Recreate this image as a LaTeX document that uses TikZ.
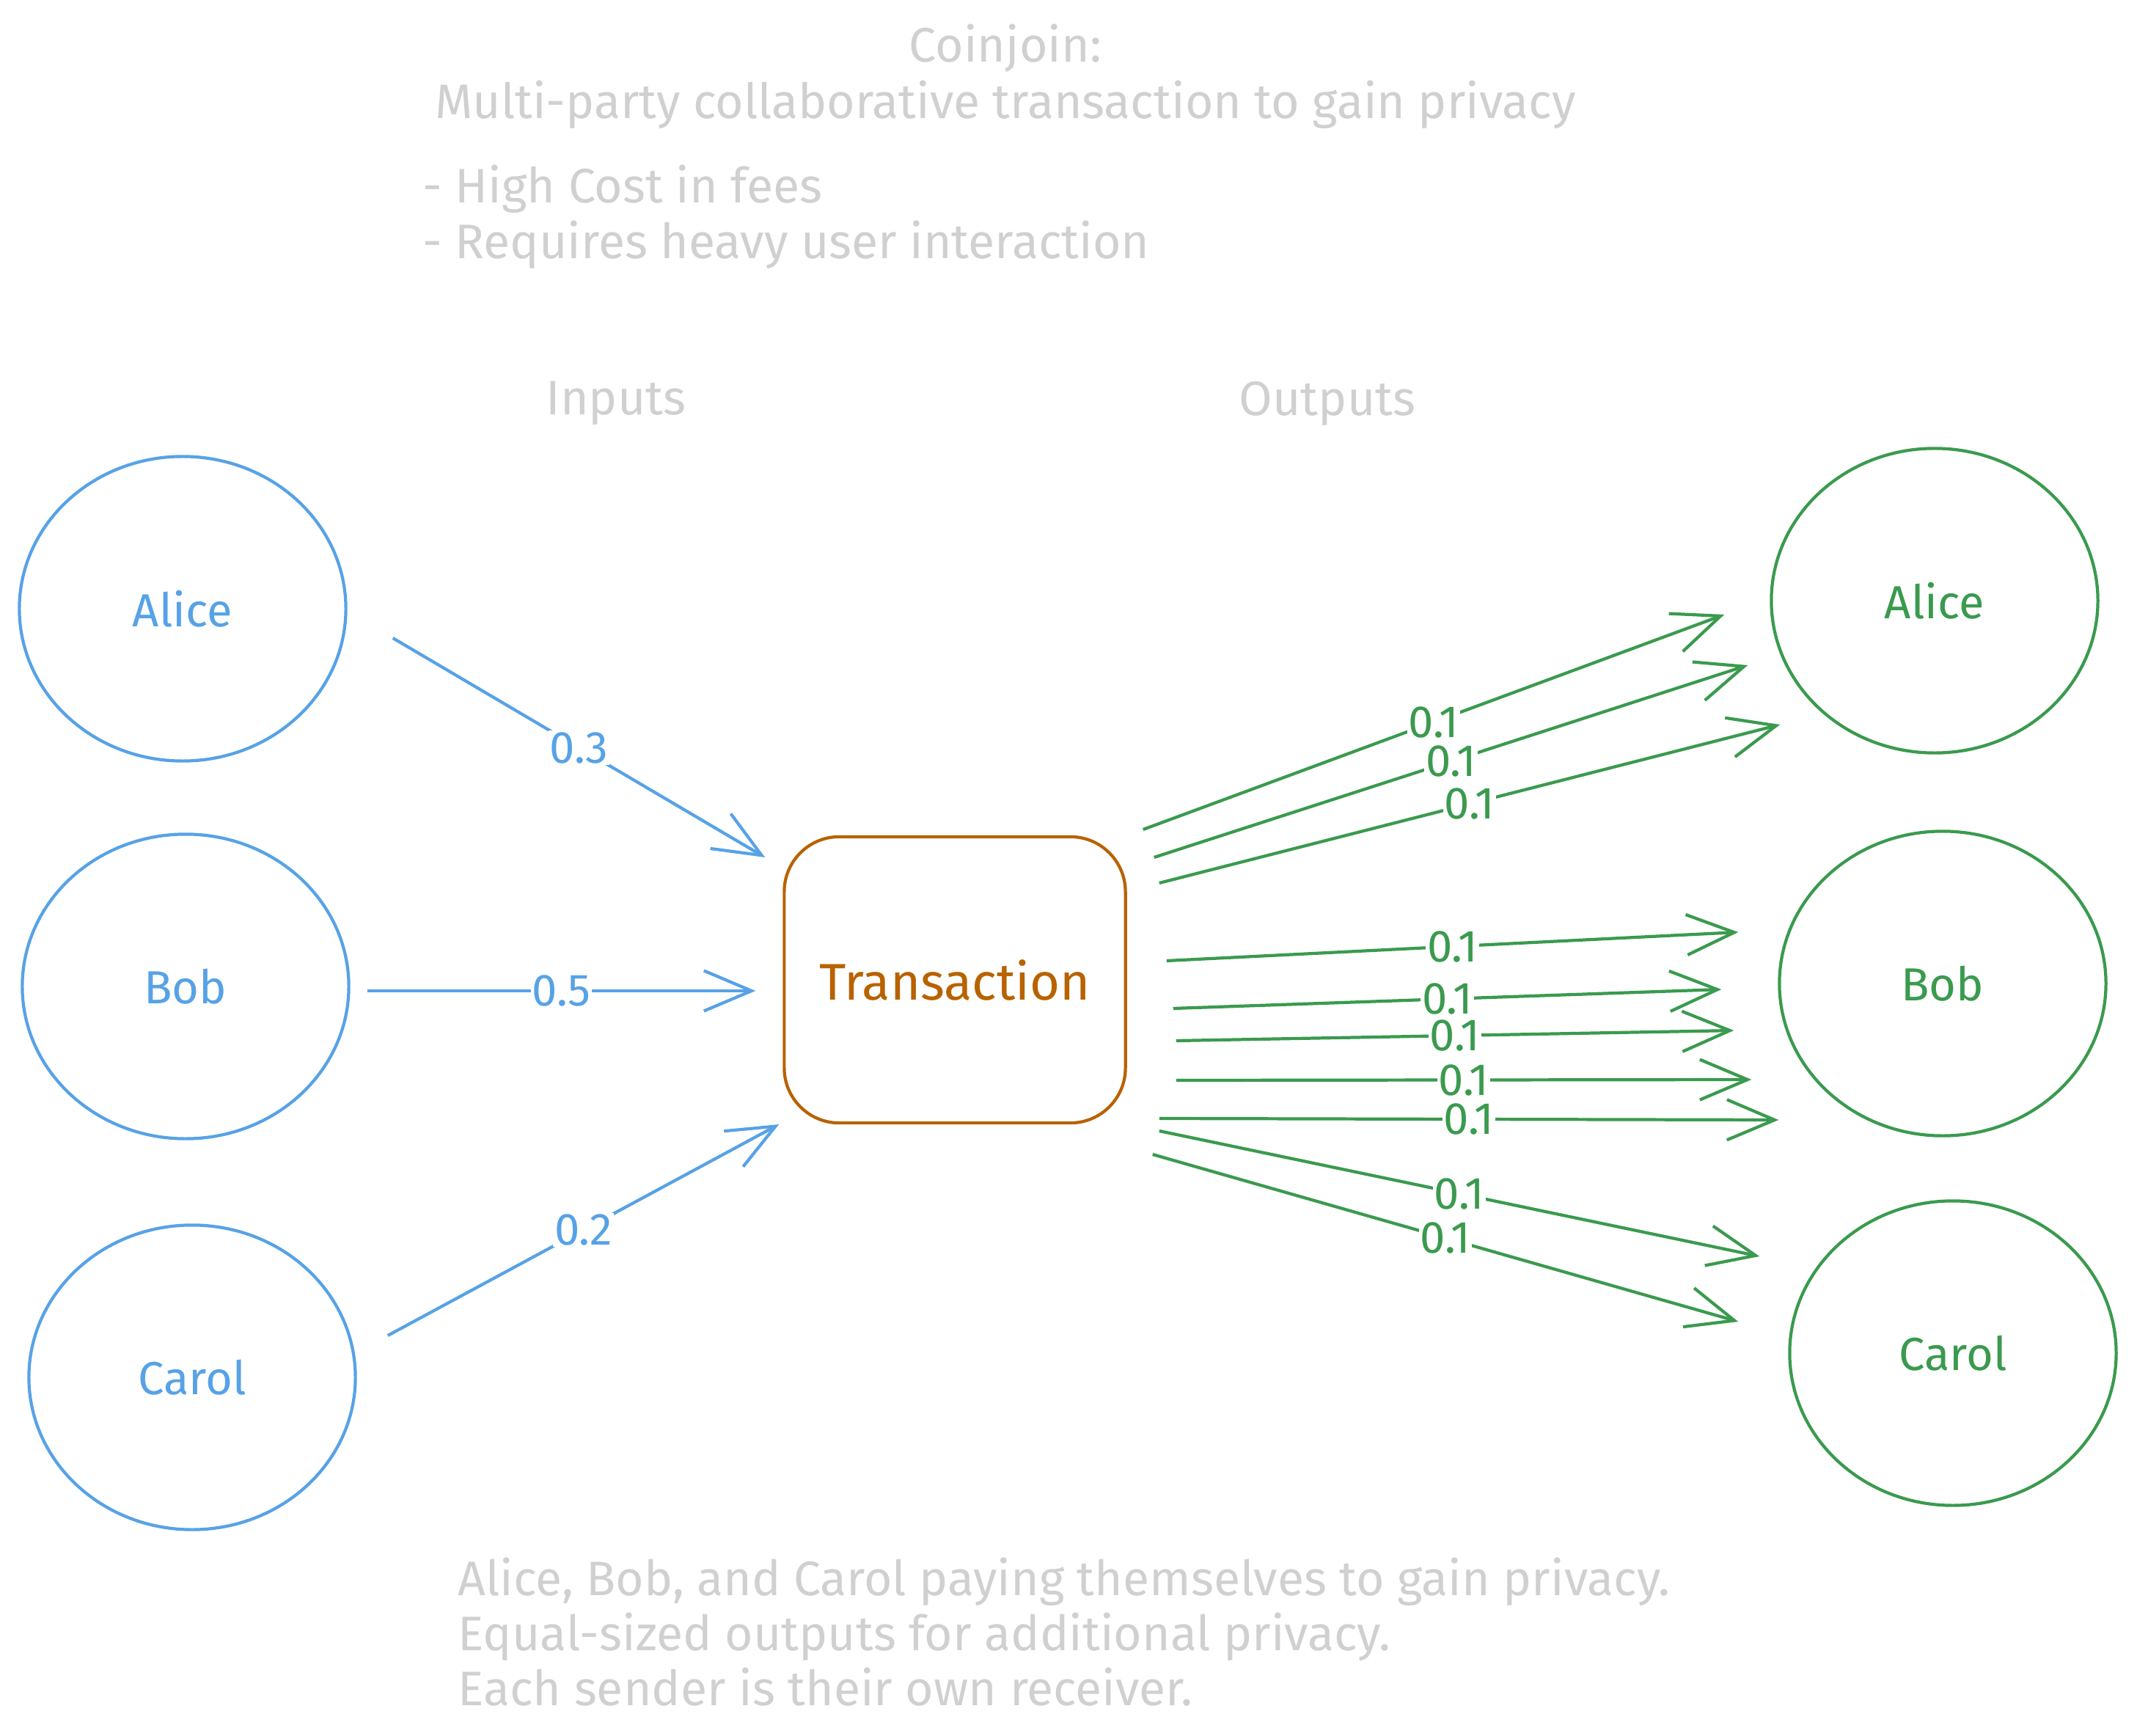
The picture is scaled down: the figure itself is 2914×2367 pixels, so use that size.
\documentclass[tikz,border=0pt]{standalone}
\usepackage{fontspec}
\setmainfont{Fira Sans}
\usetikzlibrary{shapes.geometric, arrows.meta}
\definecolor{inBlue}{RGB}{87,162,230}
\definecolor{outGreen}{RGB}{58,154,78}
\definecolor{txOrange}{RGB}{184,98,0}
\definecolor{noteGray}{RGB}{208,208,208}

\begin{document}
\begin{tikzpicture}[
    x=0.01cm, y=-0.01cm,
    party/.style={ellipse, draw, line width=1.2pt, minimum width=4.45cm, minimum height=4.15cm, font=\fontsize{18}{22}\selectfont},
    sender/.style={party, draw=inBlue, text=inBlue},
    receiver/.style={party, draw=outGreen, text=outGreen},
    txbox/.style={rectangle, rounded corners=0.75cm, draw=txOrange, text=txOrange, line width=1.2pt, minimum width=4.65cm, minimum height=3.9cm, font=\fontsize{20}{24}\selectfont},
    note/.style={text=noteGray, font=\fontsize{18.8}{22}\selectfont, inner sep=0pt},
    flow/.style={-{Straight Barb[length=0.65cm, width=0.55cm]}, line width=1.2pt},
    inflow/.style={flow, inBlue},
    outflow/.style={flow, outGreen},
    amount/.style={midway, fill=white, inner sep=0.5pt, font=\fontsize{17.5}{20}\selectfont}
]
\useasboundingbox (0,0) rectangle (2914,2367);

\node[note, align=center] (title) at (1371,104) {Coinjoin:\\Multi-party collaborative transaction to gain privacy};
\node[note, align=left, anchor=west, font=\fontsize{18.8}{21.6}\selectfont] (cons) at (576,296) {- High Cost in fees\\- Requires heavy user interaction};
\node[note] (inputs) at (840,550) {Inputs};
\node[note] (outputs) at (1810,550) {Outputs};

\node[sender] (aliceIn) at (249,830) {Alice};
\node[sender] (bobIn) at (253,1345) {Bob};
\node[sender] (carolIn) at (262,1878) {Carol};

\node[txbox] (tx) at (1302,1336) {Transaction};

\node[receiver] (aliceOut) at (2638,819) {Alice};
\node[receiver] (bobOut) at (2649,1341) {Bob};
\node[receiver] (carolOut) at (2663,1845) {Carol};

\node[note, align=left, anchor=west, font=\fontsize{18.8}{21.3}\selectfont] (summary) at (624,2225) {Alice, Bob, and Carol paying themselves to gain privacy.\\Equal-sized outputs for additional privacy.\\Each sender is their own receiver.};

\draw[inflow] ([shift={(62,40)}]aliceIn.east) -- node[amount] {0.3} ([shift={(-24,-167)}]tx.west);
\draw[inflow] ([shift={(23,6)}]bobIn.east) -- node[amount] {0.5} ([shift={(-37,15)}]tx.west);
\draw[inflow] ([shift={(42,-57)}]carolIn.east) -- node[amount] {0.2} ([shift={(-5,197)}]tx.west);

\draw[outflow] ([shift={(22,-205)}]tx.east) -- node[amount] {0.1} ([shift={(-62,19)}]aliceOut.west);
\draw[outflow] ([shift={(37,-167)}]tx.east) -- node[amount] {0.1} ([shift={(-30,88)}]aliceOut.west);
\draw[outflow] ([shift={(44,-132)}]tx.east) -- node[amount] {0.1} ([shift={(14,169)}]aliceOut.west);
\draw[outflow] ([shift={(54,-26)}]tx.east) -- node[amount] {0.1} ([shift={(-54,-70)}]bobOut.west);
\draw[outflow] ([shift={(63,39)}]tx.east) -- node[amount] {0.1} ([shift={(-77,8)}]bobOut.west);
\draw[outflow] ([shift={(67,83)}]tx.east) -- node[amount] {0.1} ([shift={(-60,64)}]bobOut.west);
\draw[outflow] ([shift={(67,137)}]tx.east) -- node[amount] {0.1} ([shift={(-36,131)}]bobOut.west);
\draw[outflow] ([shift={(44,189)}]tx.east) -- node[amount] {0.1} ([shift={(1,186)}]bobOut.west);
\draw[outflow] ([shift={(44,206)}]tx.east) -- node[amount] {0.1} ([shift={(-39,-132)}]carolOut.west);
\draw[outflow] ([shift={(35,238)}]tx.east) -- node[amount] {0.1} ([shift={(-68,-43)}]carolOut.west);
\end{tikzpicture}
\end{document}
